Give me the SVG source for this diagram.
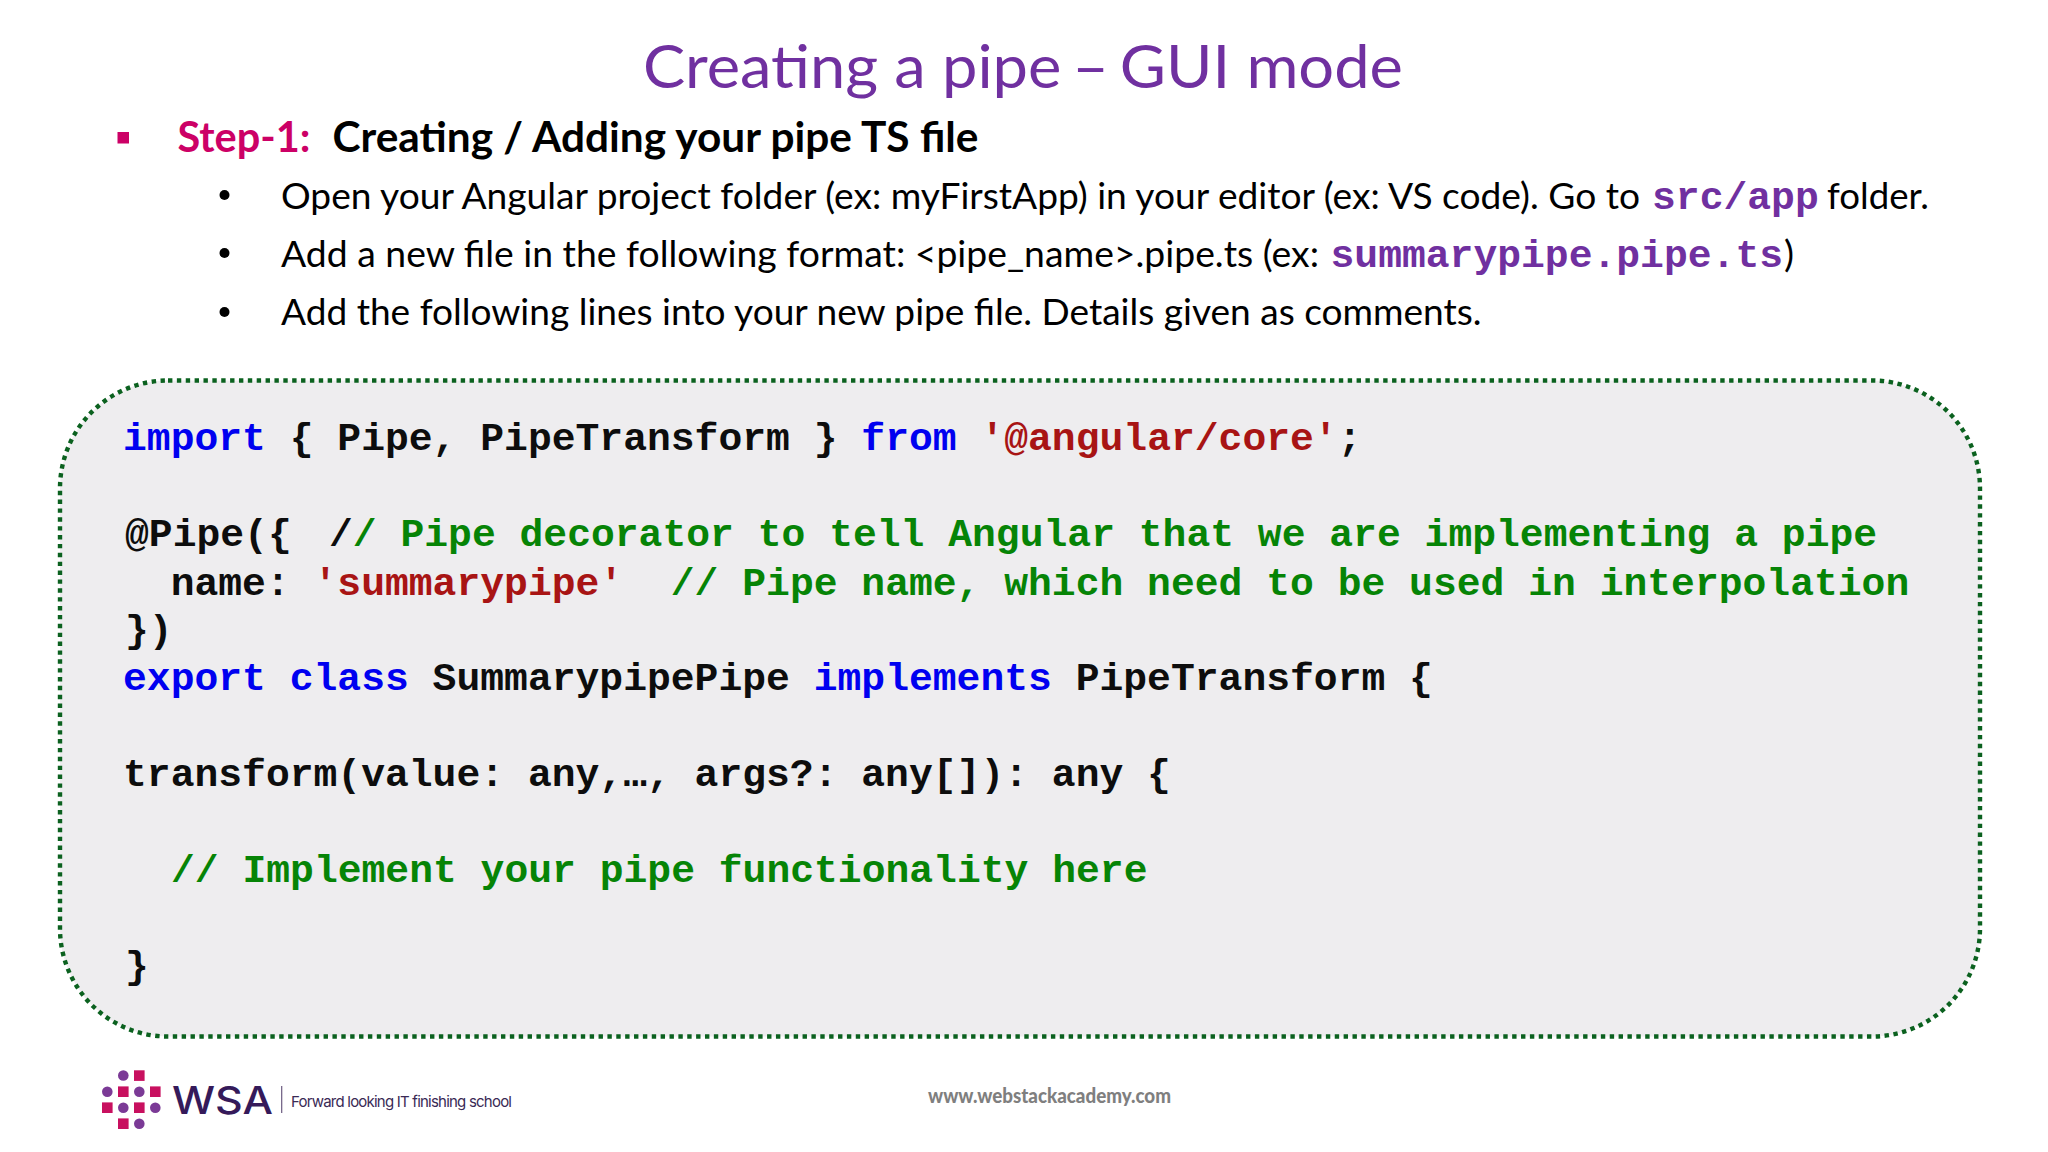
<svg xmlns="http://www.w3.org/2000/svg" width="2048" height="1152" viewBox="0 0 2048 1152">
<style>
text{white-space:pre}
.cal{font-family:"Lato","Carlito","Liberation Sans",sans-serif}
.body{font-size:37.5px;fill:#000}
.inl{font-family:"Liberation Mono",monospace;font-weight:700;font-size:39.7px;fill:#7030A0}
.code{font-family:"Liberation Mono",monospace;font-weight:700;font-size:39.7px;fill:#0d0d0d}
.kw{fill:#0000F0}.str{fill:#A81414}.cm{fill:#068406}
.pk{fill:#C8105F}.pu{fill:#7B3A96}
</style>
<rect width="2048" height="1152" fill="#fff"/>
<g id="heading">
<text class="cal" x="643" y="88" font-size="60" fill="#7030A0" textLength="760" lengthAdjust="spacingAndGlyphs">Creating a pipe<tspan dx="-5"> – </tspan><tspan dx="-5">GUI mode</tspan></text>
<rect x="117.500" y="132" width="11.500" height="11.500" fill="#CC0066"/>
<text class="cal" x="177.500" y="151.500" font-size="42" font-weight="700" fill="#CC0066" textLength="133" lengthAdjust="spacingAndGlyphs">Step-1:</text>
<text class="cal" x="332.500" y="151.500" font-size="42" font-weight="700" fill="#000" textLength="646" lengthAdjust="spacingAndGlyphs">Creating / Adding your pipe TS file</text>
</g>
<g id="bullets">
<circle cx="224.500" cy="195" r="5"/><circle cx="224.500" cy="253" r="5"/><circle cx="224.500" cy="312" r="5"/>
<text class="cal body" x="281" y="208.500" textLength="1359" lengthAdjust="spacingAndGlyphs">Open your Angular project folder (ex: myFirstApp) in your editor (ex: VS code). Go to</text>
<text class="inl" x="1652" y="208.500">src/app</text>
<text class="cal body" x="1827" y="208.500" textLength="102" lengthAdjust="spacingAndGlyphs">folder.</text>
<text class="cal body" x="281" y="266.500" textLength="1038" lengthAdjust="spacingAndGlyphs">Add a new file in the following format: &lt;pipe_name&gt;.pipe.ts (ex:</text>
<text class="inl" x="1330.500" y="266.500">summarypipe.pipe.ts</text>
<text class="cal body" x="1784" y="266.500">)</text>
<text class="cal body" x="281" y="324.500" textLength="1200.500" lengthAdjust="spacingAndGlyphs">Add the following lines into your new pipe file. Details given as comments.</text>
</g>
<g id="code-box">
<rect x="60" y="380.500" width="1920" height="656" rx="108" ry="108" fill="#EEEDEF" stroke="#0B611F" stroke-width="4.400" stroke-dasharray="4.400 4.470"/>
<text class="code" x="123" y="450"><tspan class="kw">import</tspan> { Pipe, PipeTransform } <tspan class="kw">from</tspan> <tspan class="str">'@angular/core'</tspan>;</text>
<text class="code" x="125" y="546">@Pipe({</text>
<text class="code" x="329" y="546">/<tspan class="cm">/ Pipe decorator to tell Angular that we are implementing a pipe</tspan></text>
<text class="code" x="123" y="594.500">  name: <tspan class="str">'summarypipe'</tspan>  <tspan class="cm">// Pipe name, which need to be used in interpolation</tspan></text>
<text class="code" x="125" y="642">})</text>
<text class="code" x="123" y="690"><tspan class="kw">export class</tspan> SummarypipePipe <tspan class="kw">implements</tspan> PipeTransform {</text>
<text class="code" x="123" y="786">transform(value: any,…, args?: any[]): any {</text>
<text class="code cm" x="171" y="882">// Implement your pipe functionality here</text>
<text class="code" x="125" y="978">}</text>
</g>
<g id="logo">
<circle class="pu" cx="123.300" cy="1075.500" r="5.300"/><rect class="pk" x="134" y="1070.300" width="10.600" height="10.600"/>
<circle class="pu" cx="107.300" cy="1091.700" r="5.300"/><rect class="pk" x="118" y="1086.400" width="10.600" height="10.600"/><circle class="pu" cx="139.300" cy="1091.700" r="5.300"/><rect class="pk" x="150" y="1086.400" width="10.600" height="10.600"/>
<rect class="pk" x="102" y="1102.400" width="10.600" height="10.600"/><circle class="pu" cx="123.300" cy="1107.700" r="5.300"/><rect class="pk" x="134" y="1102.400" width="10.600" height="10.600"/><circle class="pu" cx="155.300" cy="1107.700" r="5.300"/>
<rect class="pk" x="118" y="1118.400" width="10.600" height="10.600"/><circle class="pu" cx="139.300" cy="1123.700" r="5.300"/>
<text x="172" y="1113.500" font-family="Inter,sans-serif" font-weight="500" font-size="38" fill="#351A5A" textLength="101" lengthAdjust="spacingAndGlyphs">WSA</text>
<line x1="281.700" y1="1086" x2="281.700" y2="1113" stroke="#6B5A80" stroke-width="1.200"/>
<text x="291" y="1106.500" font-family="Inter,sans-serif" font-size="15" fill="#3A2A55" textLength="221" lengthAdjust="spacing">Forward looking IT finishing school</text>
</g>
<text id="url" x="928" y="1103" font-family="Lato,sans-serif" font-weight="900" font-size="20" fill="#7F7F7F" textLength="243" lengthAdjust="spacingAndGlyphs">www.webstackacademy.com</text>
</svg>
